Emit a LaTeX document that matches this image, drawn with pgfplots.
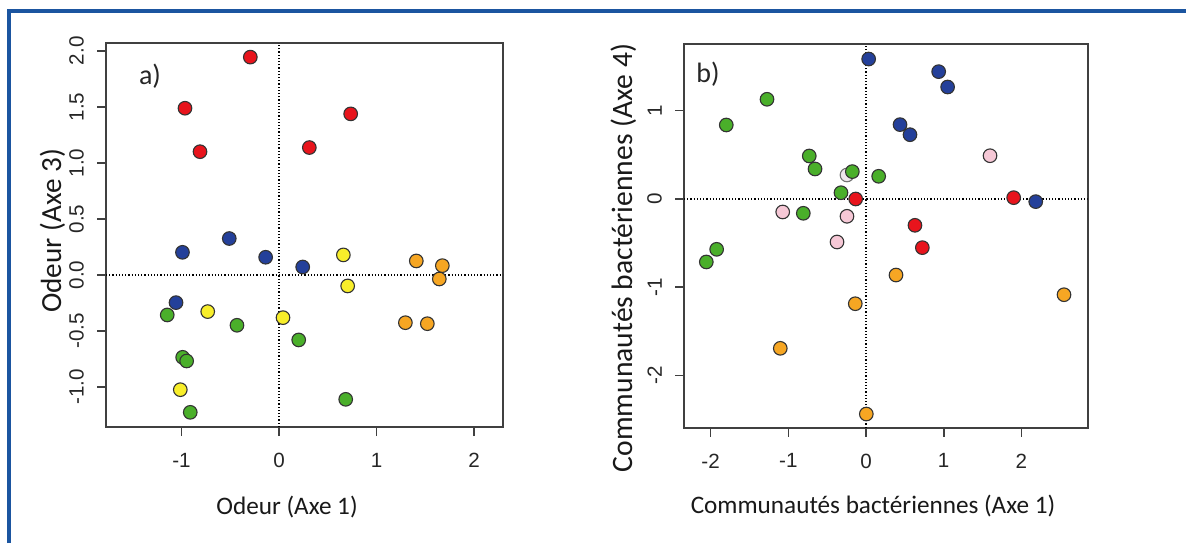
\documentclass[border=0pt]{standalone}
\usepackage{pgfplots}
\pgfplotsset{compat=1.18}
\usepackage{fontspec}
\setmainfont{Carlito}
\newfontfamily\arial{Liberation Sans}
\definecolor{pred}{HTML}{E8141C}
\definecolor{pblue}{HTML}{24409A}
\definecolor{pgreen}{HTML}{4AAF2A}
\definecolor{pyellow}{HTML}{F8EE2A}
\definecolor{porange}{HTML}{F6A623}
\definecolor{ppink}{HTML}{F6C8D6}
\definecolor{pgrey}{HTML}{EEE6EC}
\definecolor{frameblue}{HTML}{1B55A0}
\pgfplotsset{
  rstyle/.style={
    scale only axis,
    axis line style={draw=black!75, line width=0.9pt},
    tick style={draw=black!75, line width=0.8pt},
    tick align=outside,
    major tick length=4.5pt,
    tick pos=left,
    ticklabel style={font=\arial\fontsize{10.3}{12}\selectfont, text=black!85},
    yticklabel style={rotate=90, anchor=south},
    xticklabel shift=5pt,
    yticklabel shift=3pt,
    clip=true,
  },
  pts/.style={only marks, mark=*, mark size=3.4pt, mark options={fill=#1, draw=black!80, line width=0.55pt}},
  zl/.style={black, densely dotted, line width=0.6pt, forget plot},
}
\begin{document}
\begin{tikzpicture}
\path[use as bounding box] (0,0) rectangle (593pt,271.5pt);
\fill[white] (0,0) rectangle (593pt,271.5pt);
\draw[frameblue, line width=1.6pt] (4.5pt,0) -- (4.5pt,266pt) -- (593pt,266pt);

% ---------------- panel a
\begin{axis}[rstyle,
  at={(53pt,58pt)}, anchor=south west,
  width=198.5pt, height=192pt,
  xmin=-1.774, xmax=2.297, ymin=-1.357, ymax=2.07,
  xtick={-1,0,1,2}, xticklabels={-1,0,1,2},
  ytick={-1,-0.5,0,0.5,1,1.5,2}, yticklabels={-1.0,-0.5,0.0,0.5,1.0,1.5,2.0},
]
\addplot[zl] coordinates {(0,-1.357) (0,2.07)};
\addplot[zl] coordinates {(-1.774,0) (2.297,0)};
\addplot[pts=pred] coordinates {(-0.294,1.944) (-0.964,1.488) (-0.81,1.10) (0.735,1.4375) (0.311,1.137)};
\addplot[pts=pblue] coordinates {(-0.99,0.202) (-0.51,0.325) (-0.137,0.158) (0.243,0.071) (-1.056,-0.247)};
\addplot[pts=pyellow] coordinates {(0.66,0.179) (0.704,-0.098) (-0.731,-0.327) (0.041,-0.381) (-1.012,-1.024)};
\addplot[pts=porange] coordinates {(1.408,0.125) (1.675,0.083) (1.644,-0.036) (1.296,-0.426) (1.521,-0.435)};
\addplot[pts=pgreen] coordinates {(-1.146,-0.357) (-0.431,-0.449) (0.202,-0.580) (-0.988,-0.735) (-0.947,-0.768) (-0.91,-1.226) (0.684,-1.11)};
\end{axis}

% ---------------- panel b
\begin{axis}[rstyle,
  at={(342pt,57.65pt)}, anchor=south west,
  width=201.85pt, height=191.85pt,
  xmin=-2.342, xmax=2.853, ymin=-2.59, ymax=1.755,
  xtick={-2,-1,0,1,2}, xticklabels={-2,-1,0,1,2},
  ytick={-2,-1,0,1}, yticklabels={-2,-1,0,1},
]
\addplot[zl] coordinates {(0,-2.59) (0,1.755)};
\addplot[zl] coordinates {(-2.342,0) (2.853,0)};
\addplot[only marks, mark=*, mark size=3.4pt, mark options={fill=pgrey, draw=black!55, line width=0.55pt}] coordinates {(-0.245,0.272)};
\addplot[pts=pblue] coordinates {(0.034,1.585) (0.935,1.442) (1.05,1.268) (0.438,0.842) (0.566,0.728) (2.184,-0.03)};
\addplot[pts=pgreen] coordinates {(-1.274,1.129) (-1.798,0.838) (-0.73,0.487) (-0.656,0.34) (-0.176,0.31) (0.163,0.257) (-0.322,0.071) (-0.807,-0.162) (-1.922,-0.57) (-2.055,-0.713)};
\addplot[pts=pred] coordinates {(-0.133,0.0) (1.9,0.015) (0.63,-0.298) (0.725,-0.551)};
\addplot[pts=ppink] coordinates {(1.596,0.49) (-1.072,-0.147) (-0.245,-0.196) (-0.373,-0.487)};
\addplot[pts=porange] coordinates {(0.386,-0.861) (-0.138,-1.186) (2.548,-1.084) (-1.103,-1.691) (0.004,-2.435)};
\end{axis}

% labels
\node[font=\fontsize{14}{16}\selectfont, text=black!85] at (75pt,233.5pt) {a)};
\node[font=\fontsize{14}{16}\selectfont, text=black!85] at (354pt,234.5pt) {b)};
\node[anchor=base, font=\fontsize{12.6}{15}\selectfont, text=black!90] at (143.5pt,14.5pt) {Odeur (Axe 1)};
\node[anchor=base, font=\fontsize{12.6}{15}\selectfont, text=black!90] at (436.5pt,15pt) {Communautés bactériennes (Axe 1)};
\node[anchor=base, rotate=90, font=\fontsize{14.6}{17}\selectfont, text=black!90] at (30.5pt,156pt) {Odeur (Axe 3)};
\node[anchor=base, rotate=90, font=\fontsize{14.8}{17}\selectfont, text=black!90] at (316pt,142.5pt) {Communautés bactériennes (Axe 4)};
\end{tikzpicture}
\end{document}
